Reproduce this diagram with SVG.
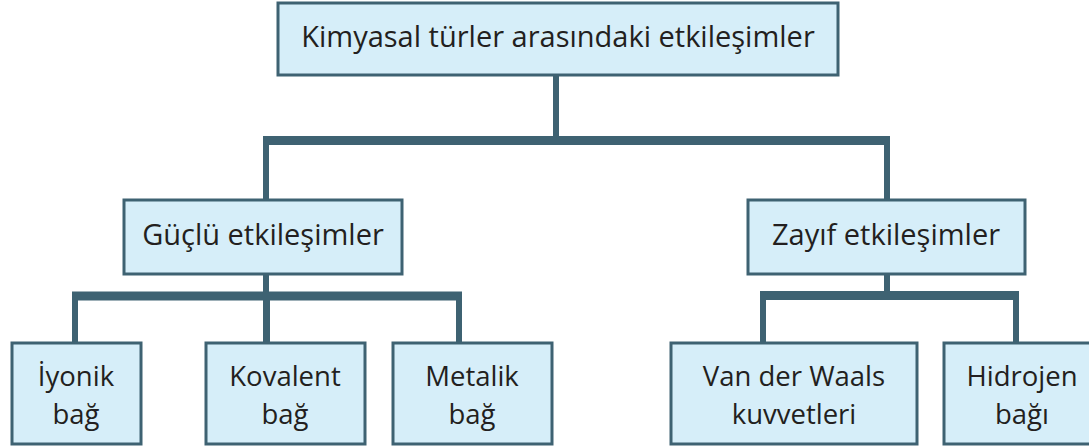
<svg xmlns="http://www.w3.org/2000/svg" width="1089" height="447" viewBox="0 0 1089 447">
<style>
.box{fill:#d6eef9;stroke:#3e6272;stroke-width:3}
.t{font-family:"Open Sans","Noto Sans",sans-serif;font-size:29px;fill:#231f20;text-anchor:middle}
.s{font-size:27.5px}
.h{stroke:#3e6272;stroke-width:9;fill:none}
.v{stroke:#3e6272;stroke-width:6;fill:none}
</style>
<rect width="1089" height="447" fill="#ffffff"/>
<g id="connectors">
<line class="v" x1="556" y1="75" x2="556" y2="140"/>
<line class="h" x1="263" y1="140.5" x2="890" y2="140.5"/>
<line class="v" x1="266" y1="136" x2="266" y2="199"/>
<line class="v" x1="887" y1="136" x2="887" y2="199"/>
<line class="v" x1="266" y1="274" x2="266" y2="342"/>
<line class="h" x1="72" y1="296" x2="462" y2="296"/>
<line class="v" x1="75" y1="292" x2="75" y2="342"/>
<line class="v" x1="267" y1="292" x2="267" y2="342"/>
<line class="v" x1="459" y1="292" x2="459" y2="342"/>
<line class="v" x1="887" y1="274" x2="887" y2="296"/>
<line class="h" x1="760" y1="295.5" x2="1019" y2="295.5"/>
<line class="v" x1="763" y1="292" x2="763" y2="342"/>
<line class="v" x1="1016" y1="292" x2="1016" y2="342"/>
</g>
<g id="root">
<rect class="box" x="278" y="3" width="560" height="72"/>
<text class="t" x="558" y="47">Kimyasal türler arasındaki etkileşimler</text>
</g>
<g id="guclu">
<rect class="box" x="124" y="200" width="278" height="74"/>
<text class="t" x="263" y="245">Güçlü etkileşimler</text>
</g>
<g id="zayif">
<rect class="box" x="748" y="200" width="277" height="74"/>
<text class="t" x="886" y="245">Zayıf etkileşimler</text>
</g>
<g id="iyonik">
<rect class="box" x="12" y="343" width="129" height="101"/>
<text class="t s" x="76" y="386">İyonik</text>
<text class="t s" x="76" y="424">bağ</text>
</g>
<g id="kovalent">
<rect class="box" x="206" y="343" width="159" height="101"/>
<text class="t s" x="285" y="386">Kovalent</text>
<text class="t s" x="285" y="424">bağ</text>
</g>
<g id="metalik">
<rect class="box" x="393" y="343" width="159" height="101"/>
<text class="t s" x="472" y="386">Metalik</text>
<text class="t s" x="472" y="424">bağ</text>
</g>
<g id="vanderwaals">
<rect class="box" x="671" y="343" width="246" height="101"/>
<text class="t s" x="794" y="386">Van der Waals</text>
<text class="t s" x="794" y="424">kuvvetleri</text>
</g>
<g id="hidrojen">
<rect class="box" x="944" y="343" width="150" height="101"/>
<text class="t s" x="1022" y="386">Hidrojen</text>
<text class="t s" x="1022" y="424">bağı</text>
</g>
</svg>
